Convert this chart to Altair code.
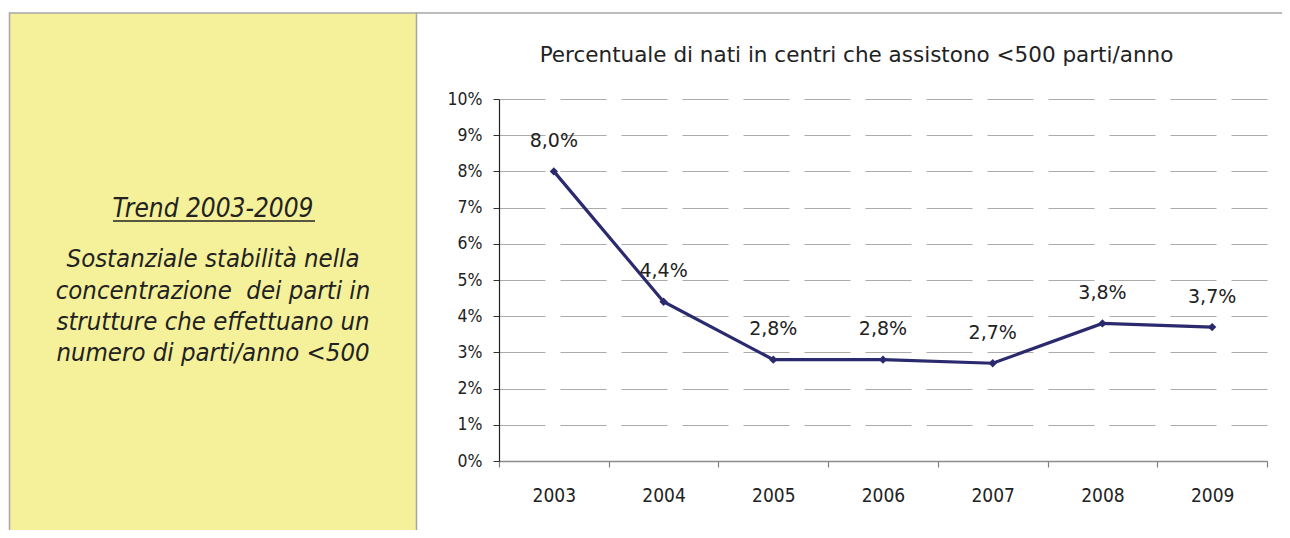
import altair as alt
import pandas as pd

# ---- data ----
years = ["2003", "2004", "2005", "2006", "2007", "2008", "2009"]
pct = [8.0, 4.4, 2.8, 2.8, 2.7, 3.8, 3.7]
y_ticks = [0, 1, 2, 3, 4, 5, 6, 7, 8, 9, 10]
chart_title = "Percentuale di nati in centri che assistono <500 parti/anno"
side_heading = "Trend 2003-2009"
side_lines = [
    "Sostanziale stabilità nella",
    "concentrazione \u00a0dei parti in",
    "strutture che effettuano un",
    "numero di parti/anno <500",
]

df = pd.DataFrame({"anno": years, "pct": pct})
df["label"] = [f"{v:.1f}".replace(".", ",") + "%" for v in pct]

# ---- styling ----
W, H = 768, 362
LINE_COL = "#2B2A6E"
TXT = "#222222"
YELLOW = "#F5F19A"
FRAME = "#A6A6A6"
SANS = "DejaVu Sans"
COND = "DejaVu Sans Condensed, DejaVu Sans"

one = alt.Data(values=[{"k": 0}])

x_enc = alt.X(
    "anno:O",
    bandPosition=0.5,
    scale=alt.Scale(type="band", paddingInner=0, paddingOuter=0),
    axis=alt.Axis(
        title=None, labelAngle=0, tickBand="extent", grid=False,
        domainColor="#8c8c8c", domainWidth=1.5, tickColor="#808080",
        tickSize=6, tickWidth=1.2, labelPadding=19, labelFont=COND,
        labelFontSize=19, labelColor=TXT,
    ),
)
y_enc = alt.Y(
    "pct:Q",
    scale=alt.Scale(domain=[0, 10], nice=False),
    axis=alt.Axis(
        title=None, values=y_ticks, tickCount=20, labelOverlap=False,
        labelExpr="datum.value + '%'",
        gridDash=[46, 15], gridColor="#ababab", gridWidth=1.2,
        domainColor="#222222", domainWidth=1.2, tickColor="#333333",
        tickSize=6, labelPadding=11, labelFont=COND, labelFontSize=17.5,
        labelColor=TXT,
    ),
)

base = alt.Chart(df)

line = base.mark_line(color=LINE_COL, strokeWidth=3.2).encode(x=x_enc, y=y_enc)
pts = base.mark_point(shape="diamond", filled=True, size=70, color=LINE_COL, opacity=1).encode(
    x=x_enc, y=y_enc
)
labels = base.mark_text(
    dy=-24.5, baseline="alphabetic", align="center", fontSize=19, font=SANS, color=TXT
).encode(x=x_enc, y=y_enc, text="label:N")

panel = alt.Chart(one).mark_rect(fill=YELLOW, stroke=FRAME, strokeWidth=1.5).encode(
    x=alt.value(-489.5), x2=alt.value(-82.5), y=alt.value(-86), y2=alt.value(450)
)
top_rule = alt.Chart(one).mark_rule(color=FRAME, strokeWidth=1.5).encode(
    x=alt.value(-82.5), x2=alt.value(800), y=alt.value(-86)
)
title = alt.Chart(one).mark_text(
    fontSize=21.5, font=SANS, color=TXT, align="center", baseline="alphabetic"
).encode(x=alt.value(357.5), y=alt.value(-36.7), text=alt.value(chart_title))

heading = alt.Chart(one).mark_text(
    fontSize=26, font=COND, fontStyle="italic", color=TXT, align="center", baseline="alphabetic"
).encode(x=alt.value(-286), y=alt.value(118.3), text=alt.value(side_heading))
underline = alt.Chart(one).mark_rule(color=TXT, strokeWidth=1.6).encode(
    x=alt.value(-386), x2=alt.value(-184), y=alt.value(122)
)

body_y = [168.3, 199.5, 230.7, 262.0]
body = [
    alt.Chart(one).mark_text(
        fontSize=25.5, font=COND, fontStyle="italic", color=TXT, align="center", baseline="alphabetic"
    ).encode(x=alt.value(-286), y=alt.value(yy), text=alt.value(t))
    for t, yy in zip(side_lines, body_y)
]

chart = alt.layer(
    panel, top_rule, title, heading, underline, *body, line, pts, labels
).properties(
    width=W, height=H,
    padding={"left": 491, "top": 91, "right": 15, "bottom": 69},
    autosize=alt.AutoSizeParams(type="none"),
    background="white",
).configure_view(stroke=None)

chart.save("out.html", embed_options={"renderer": "svg", "actions": False})
